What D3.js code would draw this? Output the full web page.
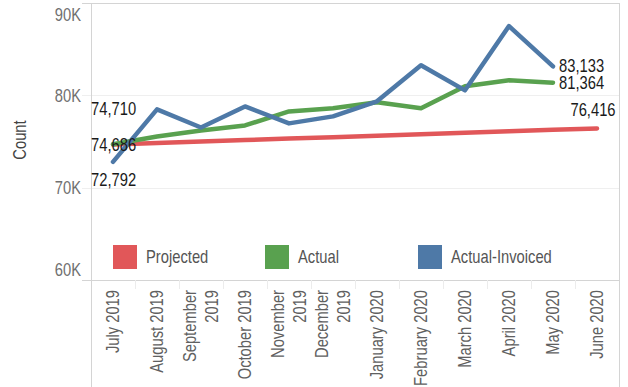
<!DOCTYPE html>
<html>
<head>
<meta charset="utf-8">
<script src="https://cdn.jsdelivr.net/npm/d3@7"></script>
<style>
body { margin: 0; background: #fff; }
text { font-family: "Liberation Sans", Arial, sans-serif; }
</style>
</head>
<body>
<div class="chart"></div>
<script>
var width = 628, height = 387;

var months = ["July 2019", "August 2019", "September 2019", "October 2019", "November 2019",
	"December 2019", "January 2020", "February 2020", "March 2020", "April 2020", "May 2020", "June 2020"];

var projected = [74686, 74840, 75000, 75160, 75320, 75470, 75630, 75790, 75940, 76100, 76260, 76416];
var actual = [74710, 75540, 76200, 76740, 78260, 78590, 79240, 78590, 80980, 81630, 81364];
var invoiced = [72792, 78480, 76520, 78800, 76960, 77720, 79350, 83250, 80540, 87500, 83133];

var yTicks = [60000, 70000, 80000, 90000];
var seriesNames = ["Projected", "Actual", "Actual-Invoiced"];
var colors = ["#e15759", "#59a14f", "#4e79a7"];

var plotLeft = 91, plotRight = 619, plotTop = 3, plotBottom = 280;
var narrow = 0.82; // squeeze glyphs to look like a narrow font

var svg = d3.select('.chart')
	.append('svg')
	.attr('width', width)
	.attr('height', height);

var x = d3.scaleBand().domain(months).range([plotLeft, plotRight]);
var y = d3.scaleLinear().domain([60000, 90000]).range([plotBottom, plotTop]);

function at(px, py, rot) {
	return 'translate(' + px + ',' + py + ')' + (rot ? ' rotate(' + rot + ')' : '') + ' scale(' + narrow + ',1)';
}

// gridlines
svg.append('g')
	.selectAll('line')
	.data(yTicks)
	.enter().append('line')
	.attr('x1', plotLeft - 9)
	.attr('x2', plotRight)
	.attr('y1', function(d) { return Math.round(y(d)) + 0.5; })
	.attr('y2', function(d) { return Math.round(y(d)) + 0.5; })
	.attr('stroke', function(d) { return (d == 60000 || d == 90000) ? '#d4d4d4' : '#efefef'; })
	.attr('stroke-width', 1);

// frame
svg.append('line').attr('x1', plotLeft + 0.5).attr('x2', plotLeft + 0.5).attr('y1', plotTop).attr('y2', height)
	.attr('stroke', '#d4d4d4');
svg.append('line').attr('x1', plotRight + 0.5).attr('x2', plotRight + 0.5).attr('y1', plotTop).attr('y2', height)
	.attr('stroke', '#d4d4d4');

// band separators on x axis
svg.append('g')
	.selectAll('line')
	.data(months.slice(1))
	.enter().append('line')
	.attr('x1', function(d) { return Math.round(x(d)) + 0.5; })
	.attr('x2', function(d) { return Math.round(x(d)) + 0.5; })
	.attr('y1', plotBottom)
	.attr('y2', plotBottom + 9)
	.attr('stroke', '#ececec');

// y labels
svg.append('g')
	.selectAll('text')
	.data(yTicks)
	.enter().append('text')
	.attr('transform', function(d) {
		return at(plotLeft - 10, Math.min(Math.max(y(d), plotTop + 12), plotBottom - 10));
	})
	.attr('dy', '0.35em')
	.attr('text-anchor', 'end')
	.attr('fill', '#707070')
	.style('font-size', '18px')
	.text(function(d) { return d3.format('~s')(d).toUpperCase(); });

svg.append('text')
	.attr('transform', at(26, 140, -90))
	.attr('text-anchor', 'middle')
	.attr('fill', '#444')
	.style('font-size', '18px')
	.text('Count');

// x labels, wrapped onto two lines when too long for the space
var xLabels = svg.append('g')
	.selectAll('text')
	.data(months)
	.enter().append('text')
	.attr('transform', function(d) {
		return at(x(d) + x.bandwidth() / 2, 290, -90);
	})
	.attr('text-anchor', 'end')
	.attr('fill', '#606060')
	.style('font-size', '18px');

xLabels.each(function(d) {
	var el = d3.select(this);
	var t = el.append('tspan').attr('x', 0).attr('y', 0).attr('dy', '0.35em').text(d);
	if (t.node().getComputedTextLength() * narrow > 98) {
		var parts = d.split(' ');
		t.attr('y', -11).text(parts[0]);
		el.append('tspan').attr('x', 0).attr('y', 11).attr('dy', '0.35em').text(parts[1]);
	}
});

// lines
var line = d3.line()
	.x(function(d, i) { return x(months[i]) + x.bandwidth() / 2; })
	.y(function(d) { return y(d); });

var allSeries = [projected, actual, invoiced];

svg.append('g')
	.selectAll('path')
	.data(allSeries)
	.enter().append('path')
	.attr('d', line)
	.attr('fill', 'none')
	.attr('stroke', function(d, i) { return colors[i]; })
	.attr('stroke-width', 4.5)
	.attr('stroke-linejoin', 'round')
	.attr('stroke-linecap', 'round');

// value labels
var fmt = d3.format(',');
var labels = [
	{ s: 0, i: 0, dx: -22, dy: 0, anchor: 'start' },
	{ s: 1, i: 0, dx: -22, dy: -35, anchor: 'start' },
	{ s: 2, i: 0, dx: -22, dy: 18, anchor: 'start' },
	{ s: 0, i: 11, dx: -4, dy: -19, anchor: 'middle' },
	{ s: 1, i: 10, dx: 6, dy: 0, anchor: 'start' },
	{ s: 2, i: 10, dx: 6, dy: -1, anchor: 'start' }
];

svg.append('g')
	.selectAll('text')
	.data(labels)
	.enter().append('text')
	.attr('transform', function(d) {
		return at(x(months[d.i]) + x.bandwidth() / 2 + d.dx, y(allSeries[d.s][d.i]) + d.dy);
	})
	.attr('dy', '0.35em')
	.attr('text-anchor', function(d) { return d.anchor; })
	.attr('fill', '#1a1a1a')
	.style('font-size', '18px')
	.text(function(d) { return fmt(allSeries[d.s][d.i]); });

// legend
var legend = svg.append('g')
	.selectAll('g')
	.data(seriesNames)
	.enter().append('g')
	.attr('transform', function(d, i) { return 'translate(' + [113, 265, 418][i] + ',245)'; });

legend.append('rect')
	.attr('width', 24)
	.attr('height', 24)
	.attr('fill', function(d, i) { return colors[i]; });

legend.append('text')
	.attr('transform', at(33, 12))
	.attr('dy', '0.35em')
	.attr('fill', '#555')
	.style('font-size', '18px')
	.text(function(d) { return d; });
</script>
</body>
</html>
